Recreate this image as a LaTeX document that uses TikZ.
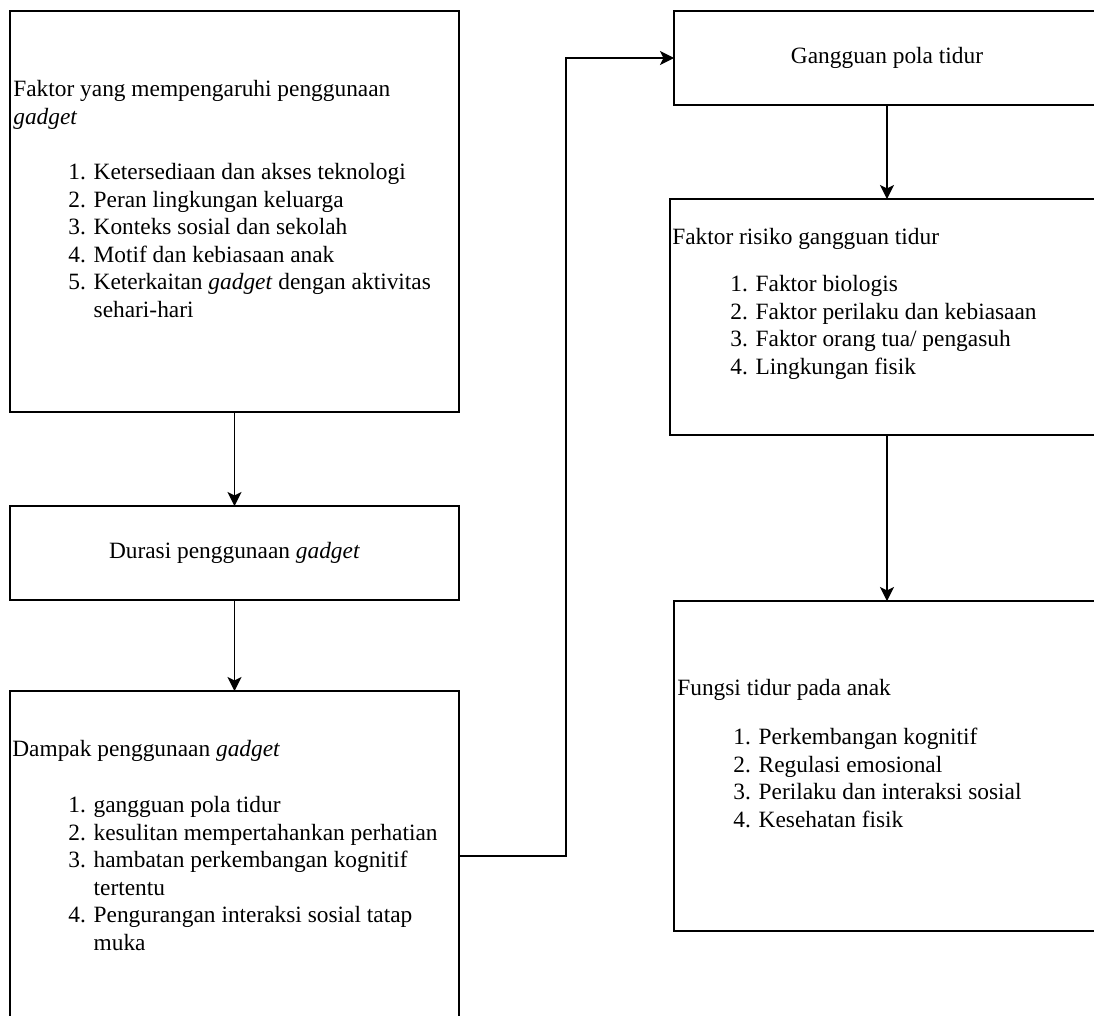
\documentclass[tikz,border=0pt]{standalone}
\usepackage{fontspec}
\setmainfont{Liberation Serif}
\usetikzlibrary{arrows.meta,positioning}

\begin{document}
\begin{tikzpicture}[
  x=0.02cm, y=-0.02cm,
  >={Stealth[length=8pt,width=8pt,inset=2pt]},
  every node/.style={font=\fontsize{13.3}{15.7}\selectfont},
  panel/.style={draw,line width=0.9pt,inner sep=0pt,outer sep=0pt},
  heading/.style={anchor=north west,inner sep=0pt,align=left,execute at begin node=\strut},
  itemlist/.style={anchor=north west,inner sep=0pt,align=left,execute at begin node=\strut},
  flow/.style={->,line width=0.9pt}
]
  \clip (0,0) rectangle (1094,1015);

  % left column
  \node[panel,minimum width=8.98cm,minimum height=8.02cm] (faktor) at (234.5,211.5) {};
  \node[panel,minimum width=8.98cm,minimum height=1.88cm] (durasi) at (234.5,553) {Durasi penggunaan \textit{gadget}};
  \node[panel,minimum width=8.98cm,minimum height=6.6cm] (dampak) at (234.5,856) {};

  % right column
  \node[panel,minimum width=8.52cm,minimum height=1.88cm] (gangguan) at (887,58) {Gangguan pola tidur};
  \node[panel,minimum width=8.68cm,minimum height=4.72cm] (risiko) at (887,317) {};
  \node[panel,minimum width=8.52cm,minimum height=6.6cm] (fungsi) at (887,766) {};

  % box texts
  \node[heading] (faktorhead) at (13,80) {Faktor yang mempengaruhi penggunaan\\\textit{gadget}};
  \node[itemlist] (faktorlist) at (68,163) {1. Ketersediaan dan akses teknologi\\
    2. Peran lingkungan keluarga\\
    3. Konteks sosial dan sekolah\\
    4. Motif dan kebiasaan anak\\
    5. Keterkaitan \textit{gadget} dengan aktivitas\\
    \phantom{5. }sehari-hari};
  \node[heading] (dampakhead) at (12,737) {Dampak penggunaan \textit{gadget}};
  \node[itemlist] (dampaklist) at (68,796) {1. gangguan pola tidur\\
    2. kesulitan mempertahankan perhatian\\
    3. hambatan perkembangan kognitif\\
    \phantom{3. }tertentu\\
    4. Pengurangan interaksi sosial tatap\\
    \phantom{4. }muka};
  \node[heading] (risikohead) at (672,225) {Faktor risiko gangguan tidur};
  \node[itemlist] (risikolist) at (730,275) {1. Faktor biologis\\
    2. Faktor perilaku dan kebiasaan\\
    3. Faktor orang tua/ pengasuh\\
    4. Lingkungan fisik};
  \node[heading] (fungsihead) at (677,676) {Fungsi tidur pada anak};
  \node[itemlist] (fungsilist) at (733,728) {1. Perkembangan kognitif\\
    2. Regulasi emosional\\
    3. Perilaku dan interaksi sosial\\
    4. Kesehatan fisik};

  % connectors
  \draw[flow] (faktor) -- (durasi);
  \draw[flow] (durasi) -- (dampak);
  \draw[flow] (dampak.east) -- ++(107,0) |- (gangguan.west);
  \draw[flow] (gangguan) -- (risiko);
  \draw[flow] (risiko) -- (fungsi);
\end{tikzpicture}
\end{document}
